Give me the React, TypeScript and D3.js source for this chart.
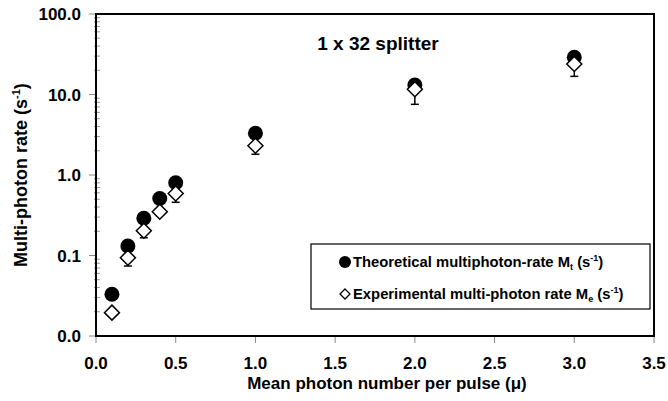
import React from "react";
import * as d3 from "d3";

const muValues = [0.1, 0.2, 0.3, 0.4, 0.5, 1.0, 2.0, 3.0];
const theoreticalRate = [0.033, 0.131, 0.29, 0.51, 0.80, 3.3, 13.1, 29];
const experimentalRate = [0.0195, 0.094, 0.203, 0.35, 0.59, 2.31, 11.6, 23.9];
const experimentalLower = [0.0195, 0.074, 0.166, 0.35, 0.458, 1.81, 7.55, 16.8];
const xTicks = [0, 0.5, 1.0, 1.5, 2.0, 2.5, 3.0, 3.5];
const yTicks = [0.01, 0.1, 1, 10, 100];

const W = 668, H = 401;
const L = 96, R = 654, T = 14, B = 336;
const FONT = "'Liberation Sans', Arial, sans-serif";

export default function App() {
  const x = d3.scaleLinear().domain([0, 3.5]).range([L, R]);
  const y = d3.scaleLog().domain([0.01, 100]).range([B, T]);
  const minor: number[] = [];
  for (let d = 0.01; d < 100; d *= 10) {
    for (let k = 2; k <= 9; k++) minor.push(d * k);
  }
  const diamond = (cx: number, cy: number, r: number) =>
    `M${cx},${cy - r}L${cx + r},${cy}L${cx},${cy + r}L${cx - r},${cy}Z`;

  return (
    <svg width={W} height={H} style={{ position: "absolute", left: 0, top: 0, background: "#fff" }}>
      {minor.map((v, i) => (
        <line key={"m" + i} x1={L - 2} x2={L + 4} y1={y(v)} y2={y(v)} stroke="#999" strokeWidth={1} />
      ))}
      {yTicks.map((v, i) => (
        <g key={"y" + i}>
          <line x1={L - 7} x2={L} y1={y(v)} y2={y(v)} stroke="#888" strokeWidth={1} />
          <text x={L - 15} y={y(v) + 6} textAnchor="end" fontFamily={FONT} fontWeight="bold" fontSize={17}>
            {v.toFixed(1)}
          </text>
        </g>
      ))}
      {xTicks.map((v, i) => (
        <g key={"x" + i}>
          <line x1={x(v)} x2={x(v)} y1={B} y2={B + 7} stroke="#888" strokeWidth={1} />
          <text x={x(v)} y={B + 33} textAnchor="middle" fontFamily={FONT} fontWeight="bold" fontSize={17}>
            {v.toFixed(1)}
          </text>
        </g>
      ))}
      <rect x={L} y={T} width={R - L} height={B - T} fill="none" stroke="#000" strokeWidth={2} />
      {muValues.map((m, i) => {
        const yl = y(experimentalLower[i]);
        const ye = y(experimentalRate[i]);
        if (yl - ye < 1) return null;
        return (
          <g key={"e" + i}>
            <line x1={x(m)} x2={x(m)} y1={ye} y2={yl} stroke="#000" strokeWidth={1.5} />
            <line x1={x(m) - 4} x2={x(m) + 4} y1={yl} y2={yl} stroke="#000" strokeWidth={1.5} />
          </g>
        );
      })}
      {muValues.map((m, i) => (
        <circle key={"t" + i} cx={x(m)} cy={y(theoreticalRate[i])} r={7.5} fill="#000" />
      ))}
      {muValues.map((m, i) => (
        <path key={"d" + i} d={diamond(x(m), y(experimentalRate[i]), 7.5)} fill="#fff" stroke="#000" strokeWidth={1.5} />
      ))}
      <text x={378} y={50} textAnchor="middle" fontFamily={FONT} fontWeight="bold" fontSize={19}>
        1 x 32 splitter
      </text>
      <rect x={311} y={244} width={339} height={65} fill="#fff" stroke="#000" strokeWidth={1.2} />
      <circle cx={345} cy={262} r={6} fill="#000" />
      <text x={353} y={267} fontFamily={FONT} fontWeight="bold" fontSize={14.8}>
        Theoretical multiphoton-rate M<tspan fontSize={9} dy={3}>t</tspan>
        <tspan dy={-3}> (s</tspan><tspan fontSize={9} dy={-6}>-1</tspan><tspan dy={6}>)</tspan>
      </text>
      <path d={diamond(345, 294, 5)} fill="#fff" stroke="#000" strokeWidth={1.3} />
      <text x={353} y={299} fontFamily={FONT} fontWeight="bold" fontSize={14.8}>
        Experimental multi-photon rate M<tspan fontSize={9} dy={3}>e</tspan>
        <tspan dy={-3}> (s</tspan><tspan fontSize={9} dy={-6}>-1</tspan><tspan dy={6}>)</tspan>
      </text>
      <text x={387} y={389} textAnchor="middle" fontFamily={FONT} fontWeight="bold" fontSize={17}>
        Mean photon number per pulse (μ)
      </text>
      <text transform={`translate(27,${175}) rotate(-90)`} textAnchor="middle" fontFamily={FONT} fontWeight="bold" fontSize={18}>
        Multi-photon rate (s<tspan fontSize={11} dy={-7}>-1</tspan><tspan dy={7}>)</tspan>
      </text>
    </svg>
  );
}
